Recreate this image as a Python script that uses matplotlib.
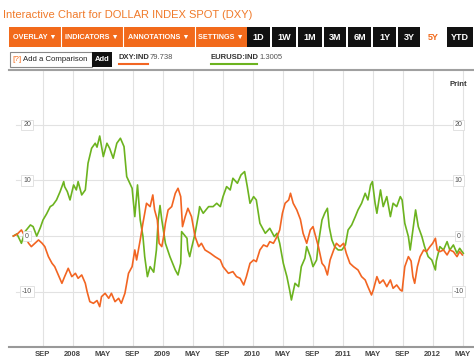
import matplotlib
matplotlib.use("Agg")
import matplotlib.pyplot as plt
from matplotlib.patches import Rectangle

plt.rcParams['font.family'] = ['Liberation Sans', 'DejaVu Sans']

# time in decimal years, values in % change since start
eur_t = [2007.34, 2007.38, 2007.43, 2007.47, 2007.53, 2007.56, 2007.60, 2007.64, 2007.67, 2007.71,
         2007.75, 2007.78, 2007.82, 2007.86, 2007.90, 2007.91, 2007.94, 2007.97, 2008.01, 2008.04,
         2008.06, 2008.10, 2008.14, 2008.17, 2008.21, 2008.25, 2008.27, 2008.30, 2008.34, 2008.38,
         2008.41, 2008.45, 2008.49, 2008.53, 2008.57, 2008.60, 2008.66, 2008.69, 2008.72, 2008.75,
         2008.78, 2008.80, 2008.83, 2008.86, 2008.90, 2008.93, 2008.95, 2008.97, 2008.99, 2009.03,
         2009.08, 2009.14, 2009.17, 2009.20, 2009.21, 2009.24, 2009.27, 2009.28, 2009.30, 2009.32,
         2009.36, 2009.40, 2009.41, 2009.45, 2009.51, 2009.56, 2009.60, 2009.64, 2009.67, 2009.71,
         2009.75, 2009.78, 2009.83, 2009.87, 2009.91, 2009.94, 2009.97, 2010.01, 2010.04, 2010.08,
         2010.14, 2010.19, 2010.24, 2010.27, 2010.30, 2010.34, 2010.38, 2010.41, 2010.43, 2010.47,
         2010.51, 2010.54, 2010.58, 2010.60, 2010.64, 2010.67, 2010.71, 2010.73, 2010.77, 2010.80,
         2010.83, 2010.85, 2010.88, 2010.91, 2010.95, 2010.99, 2011.03, 2011.06, 2011.10, 2011.14,
         2011.17, 2011.21, 2011.25, 2011.28, 2011.31, 2011.33, 2011.36, 2011.38, 2011.42, 2011.45,
         2011.49, 2011.53, 2011.56, 2011.60, 2011.64, 2011.66, 2011.69, 2011.73, 2011.75, 2011.78,
         2011.81, 2011.84, 2011.88, 2011.91, 2011.95, 2011.99, 2012.03, 2012.04, 2012.08, 2012.12,
         2012.16, 2012.19, 2012.23, 2012.27, 2012.30, 2012.34]
eur_v = [0.0, 0.4, -1.3, 0.8, 2.0, 1.7, 0.0, 1.5, 2.9, 4.0,
         5.3, 5.6, 6.5, 8.0, 9.8, 8.9, 8.0, 6.5, 9.2, 8.3,
         9.8, 7.4, 8.3, 13.1, 15.8, 16.7, 16.0, 18.0, 14.3, 16.7,
         15.8, 14.0, 16.7, 17.6, 16.1, 10.7, 8.6, 3.5, 9.2, 2.9,
         0.0, -3.7, -7.3, -5.5, -6.5, -2.5, 2.9, 5.5, 2.9, -1.3,
         -3.7, -6.1, -7.0, -4.9, 0.8, 0.2, -0.4, -2.5, -3.7, -2.2,
         0.5, 4.1, 5.3, 4.1, 5.3, 5.3, 5.9, 5.3, 7.1, 8.9,
         8.3, 10.4, 9.5, 11.0, 11.6, 8.9, 5.9, 7.1, 6.5, 2.3,
         0.5, 1.4, -0.1, 0.5, -1.3, -4.9, -7.3, -9.7, -11.5, -8.5,
         -9.1, -5.5, -4.0, -1.9, -3.7, -5.5, -4.3, -1.3, 2.9, 4.1,
         5.0, 1.7, -0.7, -1.9, -2.5, -2.5, -1.6, 1.1, 2.0, 3.5,
         4.7, 5.9, 7.7, 6.5, 9.2, 9.8, 5.9, 4.1, 8.3, 5.3,
         7.1, 3.5, 5.9, 5.3, 7.1, 6.5, 2.3, -0.1, -2.5, 1.1,
         4.7, 1.7, -0.1, -1.9, -3.7, -4.3, -6.1, -4.5, -1.9, -2.5,
         -1.0, -2.5, -1.6, -3.1, -2.2, -3.1]

dxy_t = [2007.34, 2007.38, 2007.43, 2007.46, 2007.51, 2007.54, 2007.58, 2007.62, 2007.66, 2007.69,
         2007.73, 2007.77, 2007.80, 2007.84, 2007.88, 2007.91, 2007.95, 2007.99, 2008.03, 2008.06,
         2008.10, 2008.14, 2008.16, 2008.19, 2008.23, 2008.27, 2008.30, 2008.32, 2008.36, 2008.40,
         2008.43, 2008.47, 2008.51, 2008.54, 2008.58, 2008.62, 2008.66, 2008.69, 2008.71, 2008.75,
         2008.78, 2008.82, 2008.86, 2008.89, 2008.91, 2008.94, 2008.96, 2008.99, 2009.01, 2009.03,
         2009.06, 2009.10, 2009.14, 2009.17, 2009.20, 2009.22, 2009.25, 2009.28, 2009.32, 2009.36,
         2009.40, 2009.43, 2009.47, 2009.53, 2009.58, 2009.64, 2009.67, 2009.73, 2009.78, 2009.82,
         2009.86, 2009.90, 2009.93, 2009.97, 2010.01, 2010.04, 2010.08, 2010.12, 2010.16, 2010.19,
         2010.23, 2010.27, 2010.30, 2010.33, 2010.36, 2010.40, 2010.42, 2010.45, 2010.49, 2010.53,
         2010.56, 2010.60, 2010.64, 2010.67, 2010.70, 2010.73, 2010.77, 2010.80, 2010.83, 2010.86,
         2010.90, 2010.93, 2010.97, 2011.01, 2011.04, 2011.08, 2011.12, 2011.17, 2011.21, 2011.25,
         2011.28, 2011.32, 2011.34, 2011.38, 2011.41, 2011.45, 2011.49, 2011.53, 2011.56, 2011.60,
         2011.64, 2011.66, 2011.69, 2011.73, 2011.76, 2011.78, 2011.80, 2011.83, 2011.86, 2011.90,
         2011.93, 2011.97, 2012.00, 2012.03, 2012.05, 2012.08, 2012.12, 2012.16, 2012.19, 2012.23,
         2012.27, 2012.30, 2012.33]
dxy_v = [0.0, 0.3, 1.1, 0.2, -1.3, -1.9, -1.3, -0.7, -1.3, -1.9,
         -3.7, -4.9, -5.5, -7.0, -8.5, -7.3, -5.8, -7.3, -6.7, -7.6,
         -7.0, -8.5, -10.0, -11.8, -12.1, -11.6, -12.7, -10.9, -10.3, -11.2,
         -10.3, -11.8, -11.2, -12.1, -10.3, -6.7, -5.5, -2.5, -4.3, -0.7,
         2.3, 5.9, 5.3, 7.4, 4.7, 2.9, -1.3, -1.9, -0.1, 2.3,
         4.7, 5.3, 7.7, 8.6, 7.1, 1.7, 3.5, 5.0, 3.5, -0.1,
         -1.9, -1.3, -2.5, -3.1, -3.7, -4.3, -5.5, -6.7, -6.4, -7.3,
         -7.6, -8.8, -7.3, -4.9, -4.3, -4.6, -2.5, -1.6, -1.9, -1.0,
         -1.3, -0.1, 1.1, 4.1, 5.9, 6.5, 7.7, 5.9, 4.7, 3.0,
         0.5, -1.3, 1.1, 1.7, -0.1, -1.9, -4.9, -5.5, -7.0, -4.3,
         -2.5, -1.3, -1.9, -1.3, -3.1, -4.9, -5.5, -6.1, -7.3, -7.9,
         -9.1, -10.6, -9.7, -7.3, -8.5, -7.9, -9.1, -7.9, -9.4, -8.8,
         -9.7, -9.9, -5.5, -3.7, -4.5, -7.3, -8.5, -5.5, -3.7, -2.5,
         -2.8, -1.9, -1.3, -0.4, -2.5, -2.8, -2.5, -3.4, -2.5, -2.8,
         -3.7, -2.8, -3.4]

tick_pos = [2007.667, 2008.0, 2008.333, 2008.667, 2009.0, 2009.333, 2009.667, 2010.0,
            2010.333, 2010.667, 2011.0, 2011.333, 2011.667, 2012.0, 2012.333]
tick_labels = ["SEP", "2008", "MAY", "SEP", "2009", "MAY", "SEP", "2010",
               "MAY", "SEP", "2011", "MAY", "SEP", "2012", "MAY"]
y_levels = [20, 10, 0, -10]

ORANGE = "#f26522"
GREEN = "#6cb31f"
GRID = "#e2e2e2"

W, H = 474, 361
fig = plt.figure(figsize=(W / 100, H / 100), dpi=100)

# main plot area
ax = fig.add_axes([9 / W, (H - 347) / H, 465 / W, 276 / H])
ax.plot(eur_t, eur_v, color=GREEN, lw=1.2, zorder=3)
ax.plot(dxy_t, dxy_v, color=ORANGE, lw=1.2, zorder=3)
ax.set_xlim(2007.292, 2012.459)
ax.set_ylim(-19.96, 29.7)
ax.set_xticks(tick_pos)
ax.set_xticklabels(tick_labels, fontsize=5.5, fontweight="bold", color="#444444")
ax.tick_params(axis="x", length=0, pad=3)
ax.set_yticks([])
ax.grid(axis="x", color=GRID, lw=0.8)
for lvl in y_levels:
    ax.axhline(lvl, xmin=0.015, xmax=0.978, color=GRID, lw=0.8, zorder=1)
    for tx in (2007.493, 2012.286):
        ax.text(tx, lvl, str(lvl), fontsize=5, color="#555555", ha="center", va="center", zorder=5,
                bbox=dict(boxstyle="square,pad=0.25", fc="white", ec="#dddddd", lw=0.6))
for s in ("top", "left", "right"):
    ax.spines[s].set_visible(False)
ax.spines["bottom"].set_color("#999999")
ax.spines["bottom"].set_linewidth(1.5)
ax.text(2012.286, 27.2, "Print", fontsize=5.5, fontweight="bold", color="#333333", ha="center", va="center")

# header overlay in pixel coordinates
hd = fig.add_axes([0, 0, 1, 1], facecolor="none")
hd.set_xlim(0, W)
hd.set_ylim(H, 0)
hd.axis("off")

hd.text(3, 15, "Interactive Chart for DOLLAR INDEX SPOT (DXY)", fontsize=8, color="#f07a2a",
        ha="left", va="center")

hd.add_patch(Rectangle((9, 27), 238, 20, fc="#f26a1b", ec="none"))
for sx in (61, 123, 195):
    hd.plot([sx, sx], [27, 47], color="white", lw=0.8)
menu = [("OVERLAY \u25BC", 35), ("INDICATORS \u25BC", 92), ("ANNOTATIONS \u25BC", 159), ("SETTINGS \u25BC", 221)]
for label, cx in menu:
    hd.text(cx, 37.5, label, fontsize=5.2, fontweight="bold", color="white", ha="center", va="center")

ranges = [("1D", 247, 270), ("1W", 272, 296), ("1M", 298, 322), ("3M", 324, 346),
          ("6M", 348, 371), ("1Y", 373, 396), ("3Y", 398, 420), ("YTD", 447, 473)]
for label, x0, x1 in ranges:
    hd.add_patch(Rectangle((x0, 27), x1 - x0, 20, fc="#111111", ec="none"))
    hd.text((x0 + x1) / 2, 37.5, label, fontsize=6.5, fontweight="bold", color="white", ha="center", va="center")
hd.text(433, 37.5, "5Y", fontsize=6.5, fontweight="bold", color="#f26a1b", ha="center", va="center")

hd.add_patch(Rectangle((10, 52), 82, 15, fc="white", ec="#888888", lw=0.8))
hd.text(12, 59.5, "[?]", fontsize=5.8, color="#f26a1b", ha="left", va="center")
hd.text(23, 59.5, "Add a Comparison", fontsize=5.6, color="#222222", ha="left", va="center")
hd.add_patch(Rectangle((92, 52), 20, 15, fc="#111111", ec="none"))
hd.text(102, 59.5, "Add", fontsize=5.5, fontweight="bold", color="white", ha="center", va="center")

hd.text(119, 57.5, "DXY:IND", fontsize=5.5, fontweight="bold", color="#333333", ha="left", va="center")
hd.text(150, 57.5, "79.738", fontsize=5.5, color="#555555", ha="left", va="center")
hd.plot([119, 148], [64, 64], color=ORANGE, lw=1.5)
hd.text(211, 57.5, "EURUSD:IND", fontsize=5.5, fontweight="bold", color="#333333", ha="left", va="center")
hd.text(259, 57.5, "1.3005", fontsize=5.5, color="#555555", ha="left", va="center")
hd.plot([211, 257], [64, 64], color=GREEN, lw=1.5)

hd.plot([9, 474], [69.5, 69.5], color="#a0a0a0", lw=1.5)

fig.savefig("out.png", dpi=100)
